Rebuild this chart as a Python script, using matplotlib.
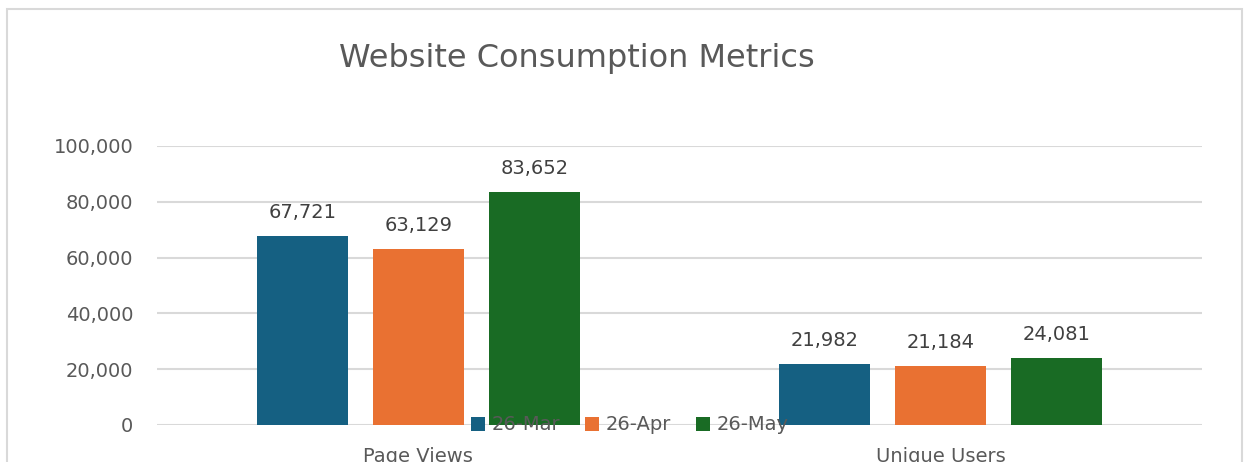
import matplotlib
matplotlib.use("Agg")
import matplotlib.pyplot as plt
import numpy as np
from matplotlib.patches import Rectangle

categories = ["Page Views", "Unique Users"]
series_names = ["26-Mar", "26-Apr", "26-May"]
mar_values = [67721, 21982]
apr_values = [63129, 21184]
may_values = [83652, 24081]
y_ticks = [0, 20000, 40000, 60000, 80000, 100000]

colors = ["#156082", "#E97132", "#196B24"]
text_color = "#595959"
grid_color = "#D9D9D9"

plt.rcParams['font.family'] = ['DejaVu Sans']

fig = plt.figure(figsize=(12.44, 4.62), dpi=100)
fig.patch.set_facecolor("white")

# chart border
fig.patches.append(Rectangle((7/1244, -0.2), 1235/1244, 1.2 - 9/462, transform=fig.transFigure,
                             fill=False, edgecolor="#D9D9D9", linewidth=1.5, zorder=0))

ax = fig.add_axes([157/1244, 37/462, 1045/1244, 279/462])
x = np.arange(len(categories))
width = 0.174
step = 0.222
all_series = [mar_values, apr_values, may_values]
for i, (name, vals) in enumerate(zip(series_names, all_series)):
    pos = x + (i - 1) * step
    bars = ax.bar(pos, vals, width, color=colors[i], label=name, zorder=3)
    for b, v in zip(bars, vals):
        ax.annotate(f"{v:,}", (b.get_x() + b.get_width()/2, v), xytext=(0, 13),
                    textcoords="offset points", ha="center", va="baseline",
                    fontsize=14, color="#404040")

ax.set_xlim(-0.5, 1.5)
ax.set_ylim(0, 100000)
ax.set_yticks(y_ticks)
ax.set_yticklabels([f"{t:,}" for t in y_ticks])
ax.set_xticks(x)
ax.set_xticklabels(categories)
ax.tick_params(axis="y", length=0, pad=17, labelsize=14, labelcolor=text_color)
ax.tick_params(axis="x", length=0, pad=16, labelsize=14, labelcolor=text_color)
ax.grid(axis="y", color=grid_color, linewidth=1.5, zorder=0)
ax.set_axisbelow(True)
for s in ax.spines.values():
    s.set_visible(False)

fig.text(577/1244, 1 - 58/462, "Website Consumption Metrics", ha="center", va="center",
         fontsize=23, color=text_color)

leg = fig.legend(loc="center", bbox_to_anchor=(630/1244, 1 - 425/462), ncol=3, frameon=False,
                 fontsize=14, handlelength=0.7, handleheight=0.7, handletextpad=0.35,
                 columnspacing=1.3, labelcolor=text_color)
leg.set_zorder(10)

fig.savefig("out.png", dpi=100, facecolor="white")
